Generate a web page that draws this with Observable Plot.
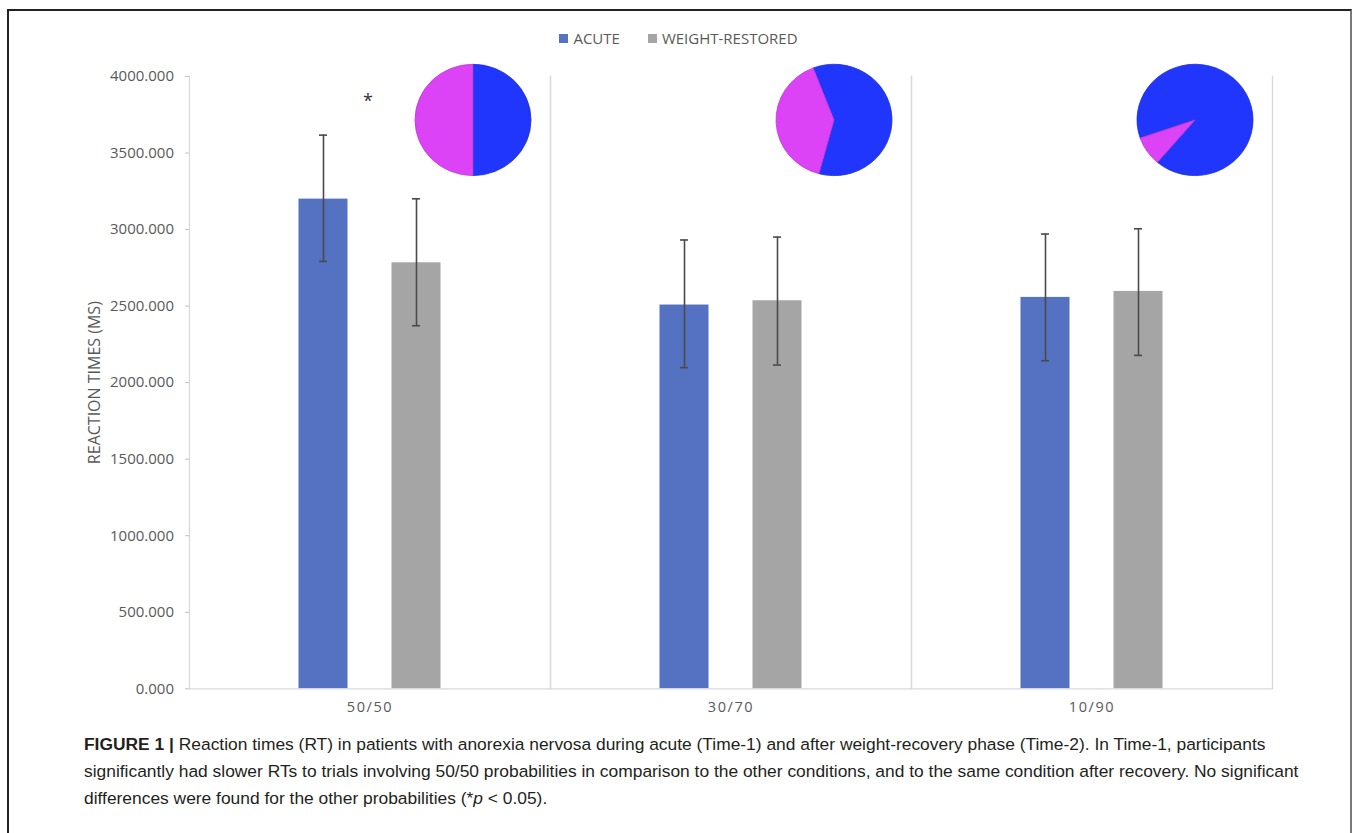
<!DOCTYPE html>
<html>
<head>
<meta charset="utf-8">
<script src="https://cdn.jsdelivr.net/npm/d3@7"></script>
<script src="https://cdn.jsdelivr.net/npm/@observablehq/plot@0.6"></script>
<style>
  body { margin: 0; background: #fff; }
  #frame { position: absolute; left: 7px; top: 9px; width: 1345px; height: 840px;
           border-left: 2px solid #222; border-top: 2px solid #222; border-right: 2px solid #7a7a7a; box-sizing: border-box; }
  #legend { position: absolute; top: 29px; left: 0; width: 1357px; display: flex; justify-content: center;
            font-family: "Open Sans", sans-serif; font-size: 15px; color: #595959; line-height: 18px; }
  #legend .item { display: flex; align-items: center; margin: 0 14px; }
  #legend .sw { width: 9px; height: 9px; margin-right: 5px; }
  #chart { position: absolute; left: 0; top: 55px; }
  #caption { position: absolute; left: 84px; top: 731px; width: 1265px;
             font-family: "Liberation Sans", Arial, sans-serif; font-size: 17.4px; line-height: 26.8px; color: #231f20; white-space: nowrap; }
  #caption b { font-weight: bold; }
  g[aria-label="fx-axis tick label"] text { letter-spacing: 1.6px; }
</style>
</head>
<body>
<div id="frame"></div>
<div id="legend"></div>
<div id="chart"></div>
<div id="caption"><b>FIGURE 1 |</b> Reaction times (RT) in patients with anorexia nervosa during acute (Time-1) and after weight-recovery phase (Time-2). In Time-1, participants<br>significantly had slower RTs to trials involving 50/50 probabilities in comparison to the other conditions, and to the same condition after recovery. No significant<br>differences were found for the other probabilities (*<i>p</i> &lt; 0.05).</div>
<script>
// ---- data ----
const categories = ["50/50", "30/70", "10/90"];
const groups = ["ACUTE", "WEIGHT-RESTORED"];
const acuteMean = [3199, 2507, 2557];
const acuteLow  = [2792, 2098, 2143];
const acuteHigh = [3617, 2932, 2971];
const wrMean = [2783, 2535, 2596];
const wrLow  = [2372, 2115, 2178];
const wrHigh = [3201, 2951, 3005];
const yTicks = [0, 500, 1000, 1500, 2000, 2500, 3000, 3500, 4000];
const yLabel = "REACTION TIMES (MS)";
// pie insets: share of blue / magenta, and the rotation of the first slice (degrees)
const pieBlue = [50, 60, 91.5];
const pieMagenta = [50, 40, 8.5];
const pieStart = [0, -21, 251];
const pieLevel = 3713;      // vertical level of the pie centres (ms units)
const sigLabels = ["*", "", ""];
const sigLevel = 3840;

// ---- styles ----
const groupColors = ["#5571c1", "#a5a5a5"];
const pieColors = ["#2136fd", "#dc43f6"];
const errColor = "#4a4a4a";

// ---- tables ----
const rows = [];
categories.forEach((c, i) => {
  rows.push({cat: c, group: groups[0], mean: acuteMean[i], lo: acuteLow[i], hi: acuteHigh[i]});
  rows.push({cat: c, group: groups[1], mean: wrMean[i], lo: wrLow[i], hi: wrHigh[i]});
});
const pies = categories.map((c, i) => ({cat: c, anchor: groups[1], level: pieLevel,
  slices: [pieBlue[i], pieMagenta[i]], start: pieStart[i]}));
const sig = categories.map((c, i) => ({cat: c, label: sigLabels[i], level: sigLevel})).filter(d => d.label);

// legend
const legend = document.getElementById("legend");
groups.forEach((g, i) => {
  const it = document.createElement("div");
  it.className = "item";
  it.innerHTML = `<span class="sw" style="background:${groupColors[i]}"></span><span>${g}</span>`;
  legend.appendChild(it);
});

function pieRender(index, scales, values, dimensions, context) {
  const ns = "http://www.w3.org/2000/svg";
  const g = context.document.createElementNS(ns, "g");
  const sx = scales.x;
  const bw = sx && sx.bandwidth ? (typeof sx.bandwidth === "function" ? sx.bandwidth() : sx.bandwidth) : 0;
  const r = 58, sy = 0.96, offset = 57;
  for (const i of index) {
    const d = pies[i];
    const cx = values.x[i] + bw / 2 + offset;
    const cy = values.y[i];
    const a0 = d.start * Math.PI / 180;
    const arcs = d3.pie().sort(null).startAngle(a0).endAngle(a0 + 2 * Math.PI)(d.slices);
    const arc = d3.arc().innerRadius(0).outerRadius(r);
    const pg = context.document.createElementNS(ns, "g");
    pg.setAttribute("transform", `translate(${cx},${cy}) scale(1,${sy})`);
    arcs.forEach((a, k) => {
      const p = context.document.createElementNS(ns, "path");
      p.setAttribute("d", arc(a));
      p.setAttribute("fill", pieColors[k]);
      p.setAttribute("stroke", d3.color(pieColors[k]).darker(0.5).formatHex());
      p.setAttribute("stroke-width", "0.8");
      pg.appendChild(p);
    });
    g.appendChild(pg);
  }
  return g;
}

const chart = Plot.plot({
  width: 1357,
  height: 670,
  marginLeft: 187.5,
  marginRight: 84.5,
  marginTop: 21,
  marginBottom: 36.7,
  style: {fontFamily: "Open Sans, sans-serif", fontSize: "15px", color: "#595959", background: "transparent"},
  fx: {domain: categories, padding: 0, label: null},
  x: {domain: groups, paddingInner: 0.474, paddingOuter: 1.16, axis: null},
  y: {domain: [0, 4000], label: null},
  color: {domain: groups, range: groupColors},
  marks: [
    Plot.frame({anchor: "left", stroke: "#d9d9d9", strokeWidth: 1.3}),
    Plot.frame({anchor: "right", stroke: "#d9d9d9", strokeWidth: 1.3}),
    Plot.barY(rows, {fx: "cat", x: "group", y: "mean", fill: "group"}),
    Plot.ruleY([0], {stroke: "#d9d9d9", strokeWidth: 1.3}),
    Plot.ruleX(rows, {fx: "cat", x: "group", y1: "lo", y2: "hi", stroke: errColor, strokeWidth: 1.6}),
    Plot.tickY(rows, {fx: "cat", x: "group", y: "hi", insetLeft: 20.5, insetRight: 20.5, stroke: errColor, strokeWidth: 1.6}),
    Plot.tickY(rows, {fx: "cat", x: "group", y: "lo", insetLeft: 20.5, insetRight: 20.5, stroke: errColor, strokeWidth: 1.6}),
    Plot.text(sig, {fx: "cat", y: "level", text: "label", fontSize: 18, fill: "#333", dx: -2}),
    Plot.dot(pies, {fx: "cat", x: "anchor", y: "level", render: pieRender}),
    Plot.axisY({ticks: yTicks, tickFormat: d3.format(".3f"), tickSize: 4, tickPadding: 11.5,
                stroke: "#bfbfbf", fill: "#595959", label: null, fontSize: 15}),
    Plot.text([yLabel], {fx: () => categories[0], frameAnchor: "left", textAnchor: "middle", rotate: -90, dx: -95,
                         fill: "#595959", fontSize: 16}),
    Plot.axisFx({anchor: "bottom", tickSize: 0, tickPadding: 13, label: null, fill: "#595959", fontSize: 14.5})
  ]
});
document.getElementById("chart").appendChild(chart);
</script>
</body>
</html>
